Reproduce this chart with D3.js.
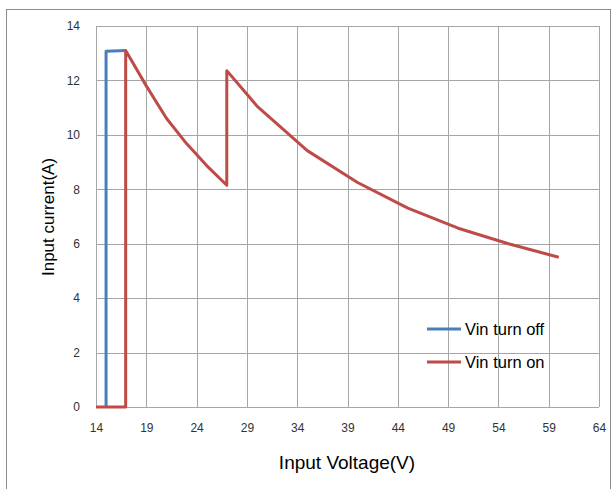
<!DOCTYPE html>
<html>
<head>
<meta charset="utf-8">
<script src="https://cdn.jsdelivr.net/npm/d3@7"></script>
<style>
    body { margin: 0; background: #fff; }
    text { font-family: "Liberation Sans", Arial, sans-serif; }
</style>
</head>
<body>
<script>
const offVolts = [15, 15, 17];
const offAmps = [0, 13.07, 13.1];
const onVolts = [14, 16.95, 16.95, 19, 21, 23, 25, 27, 27, 30, 35, 40, 45, 50, 55, 60];
const onAmps = [0, 0, 13.1, 11.8, 10.61, 9.68, 8.87, 8.15, 12.36, 11.06, 9.42, 8.25, 7.31, 6.57, 6.0, 5.5];
const xTicks = [14, 19, 24, 29, 34, 39, 44, 49, 54, 59, 64];
const yTicks = [0, 2, 4, 6, 8, 10, 12, 14];
const seriesNames = ["Vin turn off", "Vin turn on"];
const colors = ["#4a7ebb", "#be4b48"];

const width = 614, height = 489;
const margin = { top: 26, right: 15, bottom: 82, left: 96 };

const svg = d3.select("body").append("svg")
    .attr("width", width)
    .attr("height", height);

// outer chart frame
svg.append("rect")
    .attr("x", 6.5).attr("y", 9.5)
    .attr("width", 604).attr("height", 520)
    .attr("fill", "none")
    .attr("stroke", "#8c8c8c");

const x = d3.scaleLinear().domain([14, 64]).range([margin.left, width - margin.right]);
const y = d3.scaleLinear().domain([0, 14]).range([height - margin.bottom, margin.top]);

const g = svg.append("g");

// grid
g.selectAll("line.vgrid")
    .data(xTicks)
    .enter().append("line")
    .attr("class", "vgrid")
    .attr("x1", d => Math.round(x(d)) + 0.5)
    .attr("x2", d => Math.round(x(d)) + 0.5)
    .attr("y1", y(14))
    .attr("y2", y(0))
    .attr("stroke", "#a6a6a6");

g.selectAll("line.hgrid")
    .data(yTicks)
    .enter().append("line")
    .attr("class", "hgrid")
    .attr("x1", x(14))
    .attr("x2", x(64))
    .attr("y1", d => Math.round(y(d)) + 0.5)
    .attr("y2", d => Math.round(y(d)) + 0.5)
    .attr("stroke", "#a6a6a6");

// axes (labels only, no tick marks)
const xAxis = svg.append("g")
    .attr("transform", "translate(0," + y(0) + ")")
    .call(d3.axisBottom(x).tickValues(xTicks).tickSize(0).tickPadding(16));
const yAxis = svg.append("g")
    .attr("transform", "translate(" + x(14) + ",0)")
    .call(d3.axisLeft(y).tickValues(yTicks).tickSize(0).tickPadding(16));

[xAxis, yAxis].forEach(a => {
    a.select(".domain").remove();
    a.selectAll("text")
        .attr("font-size", 12)
        .attr("fill", "#333")
        .style("font-family", "'Liberation Sans', Arial, sans-serif");
});

// series
const line = d3.line()
    .x(d => x(d[0]))
    .y(d => y(d[1]));

const series = [
    d3.zip(onVolts, onAmps),
    d3.zip(offVolts, offAmps)
];

svg.selectAll("path.series")
    .data([series[1], series[0]])
    .enter().append("path")
    .attr("class", "series")
    .attr("d", line)
    .attr("fill", "none")
    .attr("stroke-width", 3)
    .attr("stroke-linejoin", "round")
    .attr("stroke", (d, i) => colors[i]);

// axis titles
svg.append("text")
    .attr("x", 347)
    .attr("y", 469)
    .attr("text-anchor", "middle")
    .attr("font-size", 19)
    .text("Input Voltage(V)");

svg.append("text")
    .attr("transform", "translate(54,217) rotate(-90)")
    .attr("text-anchor", "middle")
    .attr("font-size", 17)
    .text("Input current(A)");

// legend
const legend = svg.append("g")
    .attr("transform", "translate(427,329)");

legend.selectAll("line")
    .data(seriesNames)
    .enter().append("line")
    .attr("x1", 0).attr("x2", 34)
    .attr("y1", (d, i) => i * 33)
    .attr("y2", (d, i) => i * 33)
    .attr("stroke", (d, i) => colors[i])
    .attr("stroke-width", 3);

legend.selectAll("text")
    .data(seriesNames)
    .enter().append("text")
    .attr("x", 38)
    .attr("y", (d, i) => i * 33 + 6)
    .attr("font-size", 16.5)
    .text(d => d);
</script>
</body>
</html>
